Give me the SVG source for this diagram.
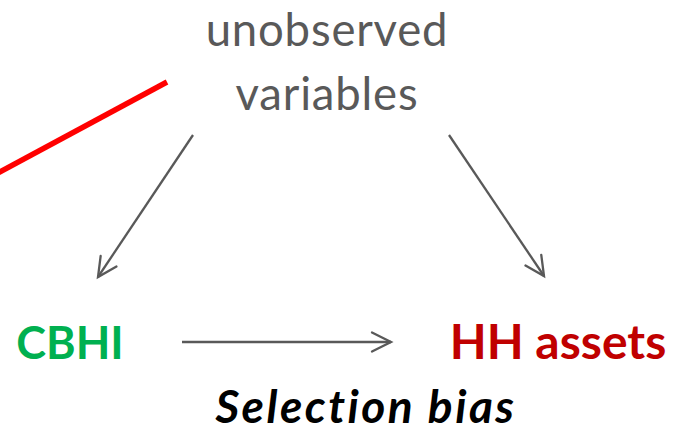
<svg xmlns="http://www.w3.org/2000/svg" width="681" height="437" viewBox="0 0 681 437">
<style>
.t{font-family:Lato,"Liberation Sans",sans-serif}
.g{fill:#595959;font-size:45.5px;text-anchor:middle;letter-spacing:0.8px}
.b{font-weight:bold}
.c{fill:none;stroke:#595959;stroke-width:2.3}
</style>
<defs>
<marker id="ah" markerUnits="userSpaceOnUse" markerWidth="30" markerHeight="30" viewBox="-25 -15 30 30" refX="0" refY="0" orient="auto" overflow="visible">
<path d="M-19,-9.5 L0,0 L-19,9.5" fill="none" stroke="#595959" stroke-width="2.3" stroke-linecap="round"/>
</marker>
</defs>
<rect width="681" height="437" fill="#fff"/>
<g id="connectors">
<line x1="-2" y1="173" x2="167" y2="82" stroke="#ff0000" stroke-width="5.5"/>
<line class="c" x1="193" y1="135" x2="98" y2="277" marker-end="url(#ah)"/>
<line class="c" x1="449" y1="135" x2="544" y2="276" marker-end="url(#ah)"/>
<line class="c" x1="182" y1="342" x2="391" y2="342" marker-end="url(#ah)"/>
</g>
<g id="unobserved">
<text class="t g" x="327" y="45.5">unobserved</text>
<text class="t g" x="327" y="110">variables</text>
</g>
<g id="cbhi">
<text class="t b" x="70" y="359" font-size="45" fill="#00b050" text-anchor="middle">CBHI</text>
</g>
<g id="hhassets">
<text class="t b" x="558" y="359" font-size="48" fill="#c00000" text-anchor="middle">HH assets</text>
</g>
<g id="caption">
<text class="t b" x="366" y="423" font-size="46" font-style="italic" fill="#000" text-anchor="middle" letter-spacing="2.5">Selection bias</text>
</g>
</svg>
